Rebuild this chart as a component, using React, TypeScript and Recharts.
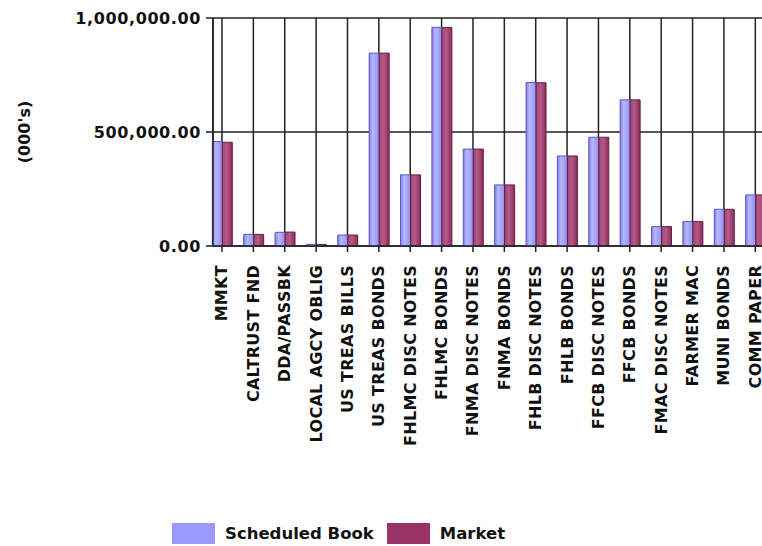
import React from "react";
import {
  Bar,
  BarChart,
  CartesianGrid,
  Label,
  Legend,
  XAxis,
  YAxis,
} from "recharts";

const categories = [
  "MMKT",
  "CALTRUST FND",
  "DDA/PASSBK",
  "LOCAL AGCY OBLIG",
  "US TREAS BILLS",
  "US TREAS BONDS",
  "FHLMC DISC NOTES",
  "FHLMC BONDS",
  "FNMA DISC NOTES",
  "FNMA BONDS",
  "FHLB DISC NOTES",
  "FHLB BONDS",
  "FFCB DISC NOTES",
  "FFCB BONDS",
  "FMAC DISC NOTES",
  "FARMER MAC",
  "MUNI BONDS",
  "COMM PAPER",
];

const scheduledBook = [
  458000, 51000, 60000, 7500, 48000, 846000, 312000, 959000, 425000,
  268000, 717000, 395000, 477000, 641000, 85000, 107000, 161000, 224000,
];

const market = [
  455000, 51000, 61000, 7000, 48000, 846000, 312000, 958000, 425000,
  268000, 716000, 395000, 477000, 641000, 85000, 107000, 161000, 224000,
];

const yTicks = [0, 500000, 1000000];

const BLUE = "#9999ff";
const MAROON = "#993366";
const FONT = "'DejaVu Sans', Verdana, sans-serif";

const data = categories.map((name, i) => ({
  name,
  book: scheduledBook[i],
  market: market[i],
}));

const formatValue = (v: number) =>
  v.toLocaleString("en-US", {
    minimumFractionDigits: 2,
    maximumFractionDigits: 2,
  });

type TickProps = {
  x?: number;
  y?: number;
  payload?: { value: string };
};

function CategoryTick({ x = 0, y = 0, payload }: TickProps) {
  return (
    <text
      x={x}
      y={y}
      transform={`rotate(-90, ${x}, ${y})`}
      textAnchor="end"
      dominantBaseline="central"
      fontFamily={FONT}
      fontWeight="bold"
      fontSize={16}
      letterSpacing={0.3}
      fill="#111"
    >
      {payload?.value}
    </text>
  );
}

function UnitLabel(props: { viewBox?: { x: number; y: number; height: number } }) {
  const vb = props.viewBox ?? { x: 0, y: 0, height: 0 };
  const cx = vb.x + 24;
  const cy = vb.y + vb.height / 2;
  return (
    <text
      x={cx}
      y={cy}
      transform={`rotate(-90, ${cx}, ${cy})`}
      textAnchor="middle"
      dominantBaseline="central"
      fontFamily={FONT}
      fontWeight="bold"
      fontSize={16}
      fill="#111"
    >
      (000's)
    </text>
  );
}

function LegendBox() {
  const items = [
    { label: "Scheduled Book", color: BLUE },
    { label: "Market", color: MAROON },
  ];
  return (
    <div style={{ display: "flex", alignItems: "center", fontFamily: FONT }}>
      {items.map((item) => (
        <div
          key={item.label}
          style={{ display: "flex", alignItems: "center", marginRight: 13 }}
        >
          <span
            style={{
              width: 43,
              height: 21,
              background: item.color,
              marginRight: 10,
              display: "inline-block",
            }}
          />
          <span style={{ fontSize: 16.5, fontWeight: "bold", color: "#111" }}>
            {item.label}
          </span>
        </div>
      ))}
    </div>
  );
}

export default function App() {
  return (
    <div
      style={{
        position: "absolute",
        left: 0,
        top: 0,
        width: 762,
        height: 546,
        overflow: "hidden",
        background: "#fff",
      }}
    >
      <BarChart
        width={771}
        height={546}
        data={data}
        margin={{ top: 18, right: 0, left: 0, bottom: 10 }}
        barGap={0}
        barSize={10}
      >
        <defs>
          <linearGradient id="bookFill" x1="0" y1="0" x2="1" y2="0">
            <stop offset="0%" stopColor="#7f7fe6" />
            <stop offset="35%" stopColor="#b8b8ff" />
            <stop offset="100%" stopColor="#8f8ff2" />
          </linearGradient>
          <linearGradient id="marketFill" x1="0" y1="0" x2="1" y2="0">
            <stop offset="0%" stopColor="#a0467a" />
            <stop offset="45%" stopColor="#b35a88" />
            <stop offset="100%" stopColor="#8a2a5a" />
          </linearGradient>
        </defs>
        <CartesianGrid stroke="#222" strokeWidth={1.5} />
        <XAxis
          dataKey="name"
          interval={0}
          height={290}
          padding={{ left: -6.7, right: 0 }}
          tick={<CategoryTick />}
          tickSize={6}
          tickMargin={13}
          axisLine={{ stroke: "#222", strokeWidth: 1.5 }}
          tickLine={{ stroke: "#222", strokeWidth: 1.5 }}
        />
        <YAxis
          width={213}
          domain={[0, 1000000]}
          ticks={yTicks}
          tickFormatter={formatValue}
          tickSize={7}
          tickMargin={5}
          tick={{
            fill: "#111",
            fontSize: 16,
            fontWeight: "bold",
            fontFamily: FONT,
            letterSpacing: 0.6,
          }}
          axisLine={{ stroke: "#222", strokeWidth: 1.5 }}
          tickLine={{ stroke: "#222", strokeWidth: 1.5 }}
        >
          <Label content={<UnitLabel />} />
        </YAxis>
        <Legend
          layout="horizontal"
          verticalAlign="middle"
          align="center"
          wrapperStyle={{ top: 523, left: 172, width: "auto" }}
          content={<LegendBox />}
        />
        <Bar
          dataKey="book"
          name="Scheduled Book"
          fill="url(#bookFill)"
          stroke="#5a5ac0"
          strokeWidth={1}
          isAnimationActive={false}
        />
        <Bar
          dataKey="market"
          name="Market"
          fill="url(#marketFill)"
          stroke="#66203f"
          strokeWidth={1}
          isAnimationActive={false}
        />
      </BarChart>
    </div>
  );
}
